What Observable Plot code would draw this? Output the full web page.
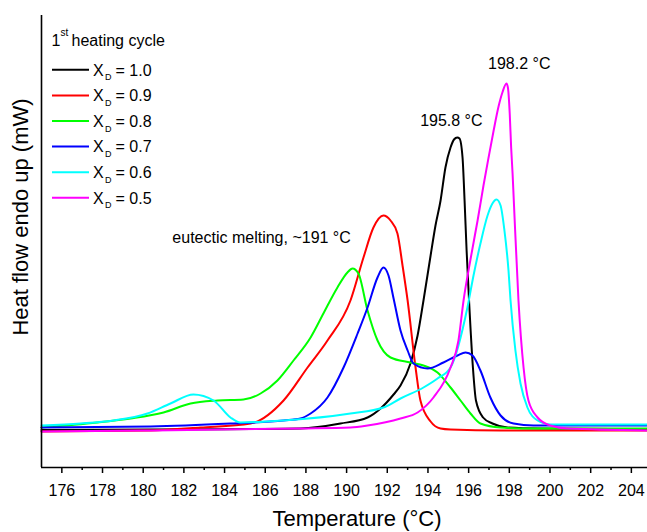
<!DOCTYPE html>
<html>
<head>
<meta charset="utf-8">
<script src="https://cdn.jsdelivr.net/npm/d3@7"></script>
<script src="https://cdn.jsdelivr.net/npm/@observablehq/plot@0.6"></script>
<style>
  html, body { margin: 0; padding: 0; background: #fff; overflow: hidden; }
  #chart svg { display: block; overflow: hidden; }
</style>
</head>
<body>
<div id="chart"></div>
<script>
// ---- series ----
const seriesKeys = ["1.0", "0.9", "0.8", "0.7", "0.6", "0.5"];
const seriesColors = ["#000000", "#ff0000", "#00ff00", "#0000ff", "#00ffff", "#ff00ff"];

// X_D = 1.0 (black)
const tempX10 = [175, 180.36, 185.28, 187.73, 189.70, 191.03, 191.67, 192.31, 192.65, 193.14, 193.49, 193.78, 194.13, 194.37, 194.62, 194.86, 195.11, 195.28, 195.44, 195.55, 195.70, 195.80, 195.90, 196.02, 196.21, 196.36, 196.71, 197.17, 197.91, 199.53, 205];
const heatX10 = [3.75, 3.8, 3.85, 3.9, 4.4, 5.0, 5.9, 7.3, 8.2, 10.4, 13.2, 16.7, 21.2, 24.2, 26.7, 30.0, 32.0, 32.8, 33.0, 32.9, 31.0, 26.7, 21.7, 16.7, 10.0, 6.7, 5.0, 4.4, 4.0, 3.9, 3.85];
// X_D = 0.9 (red)
const tempX09 = [175, 180.36, 182.82, 185.28, 186.90, 188.08, 189.06, 190.19, 190.83, 191.32, 191.81, 192.16, 192.50, 192.75, 193.00, 193.39, 193.63, 194.13, 194.62, 195.11, 197.57, 205];
const heatX09 = [3.6, 3.7, 4.0, 4.4, 6.7, 10.0, 12.7, 16.7, 21.0, 24.0, 25.2, 24.7, 23.4, 20.2, 16.7, 10.0, 6.7, 4.6, 3.9, 3.8, 3.7, 3.7];
// X_D = 0.8 (green)
const tempX08 = [175, 177.75, 179.38, 181.0, 182.33, 183.65, 184.93, 185.77, 186.60, 187.39, 188.23, 188.86, 189.55, 190.04, 190.29, 190.58, 191.03, 191.52, 192.16, 193.14, 193.78, 194.47, 195.11, 195.60, 196.09, 196.58, 197.57, 199.19, 205];
const heatX08 = [4.0, 4.5, 4.9, 5.5, 6.4, 6.7, 6.8, 7.4, 8.7, 10.7, 13.0, 15.4, 18.0, 19.5, 19.9, 19.4, 15.7, 12.7, 11.0, 10.5, 10.2, 9.5, 8.0, 6.7, 5.4, 4.4, 4.0, 3.9, 3.9];
// X_D = 0.7 (blue)
const tempX07 = [175, 180.36, 184.29, 186.90, 187.73, 188.23, 189.06, 189.85, 190.54, 191.03, 191.52, 191.81, 192.06, 192.31, 192.65, 193.0, 193.29, 193.98, 194.76, 195.45, 195.85, 196.19, 196.58, 197.07, 197.57, 198.21, 199.19, 205];
const heatX07 = [4.0, 4.1, 4.4, 4.7, 4.9, 5.4, 7.0, 10.0, 13.4, 16.0, 19.0, 20.0, 19.2, 16.9, 13.7, 11.7, 10.4, 9.9, 10.5, 11.2, 11.5, 11.2, 9.7, 7.0, 5.2, 4.4, 4.2, 4.2];
// X_D = 0.6 (cyan)
const tempX06 = [175, 176.92, 178.54, 180.21, 181.34, 182.47, 183.46, 184.29, 184.78, 186.90, 190.19, 191.81, 192.65, 193.78, 194.47, 195.11, 195.94, 196.24, 196.58, 196.93, 197.17, 197.37, 197.57, 197.76, 197.96, 198.06, 198.30, 198.55, 198.89, 199.39, 200.02, 205];
const heatX06 = [4.2, 4.4, 4.7, 5.4, 6.4, 7.3, 6.7, 5.0, 4.5, 4.7, 5.4, 6.0, 6.9, 8.0, 8.9, 10.0, 16.0, 19.2, 22.4, 25.2, 26.4, 26.8, 26.2, 23.7, 19.7, 16.7, 11.7, 8.4, 6.0, 4.7, 4.3, 4.3];
// X_D = 0.5 (magenta)
const tempX05 = [175, 180.36, 187.73, 190.19, 191.03, 192.65, 193.49, 194.27, 195.11, 195.50, 195.75, 196.09, 196.44, 196.73, 196.98, 197.22, 197.47, 197.66, 197.86, 197.93, 198.02, 198.09, 198.16, 198.22, 198.45, 198.70, 198.94, 199.39, 200.02, 200.86, 205];
const heatX05 = [3.6, 3.7, 3.9, 4.0, 4.2, 4.9, 5.5, 7.0, 10.0, 12.7, 16.7, 20.8, 24.7, 28.2, 31.0, 33.6, 36.1, 37.5, 38.4, 38.0, 35.4, 32.0, 29.4, 26.7, 16.7, 10.0, 6.7, 5.0, 4.2, 3.9, 3.7];

// ---- axis ticks ----
const majorTicks = [176, 178, 180, 182, 184, 186, 188, 190, 192, 194, 196, 198, 200, 202, 204];
const minorTicks = [177, 179, 181, 183, 185, 187, 189, 191, 193, 195, 197, 199, 201, 203];

// ---- annotations ----
const annoLabels = ["198.2 °C", "195.8 °C", "eutectic melting, ~191 °C"];
const annoTemp = [198.49, 195.15, 185.82];
const annoHeat = [40.4, 34.7, 23.0];

// ---- build table ----
const temps = [tempX10, tempX09, tempX08, tempX07, tempX06, tempX05];
const heats = [heatX10, heatX09, heatX08, heatX07, heatX06, heatX05];
const rows = seriesKeys.flatMap((k, i) => temps[i].map((t, j) => ({series: k, T: t, hf: heats[i][j]})));
const annos = annoLabels.map((s, i) => ({text: s, T: annoTemp[i], hf: annoHeat[i]}));

// ---- layout ----
const W = 647, H = 532;
const mL = 41, mT = 15, mB = 65;
const xDomain = [175, 205], xRange = [41, 651.2];
const yDomain = [0, 45.2], yRange = [H - mB, mT];
const xPix = d3.scaleLinear(xDomain, xRange);
const yPix = d3.scaleLinear(yDomain, yRange);
const font = "Arial, 'Liberation Sans', sans-serif";

const legendRows = seriesKeys.map((k, i) => ({key: k, label: "= " + k, row: i}));
const rowY = d => yPix.invert(69.3 + 25.6 * d.row);

const chart = Plot.plot({
  width: W, height: H,
  marginLeft: mL, marginTop: mT, marginBottom: mB, marginRight: 0,
  style: {fontFamily: font, background: "#fff", overflow: "hidden", color: "#000"},
  x: {domain: xDomain, range: xRange},
  y: {domain: yDomain, range: yRange, axis: null},
  color: {domain: seriesKeys, range: seriesColors},
  marks: [
    Plot.line(rows, {x: "T", y: "hf", z: "series", stroke: "series", strokeWidth: 2, curve: "monotone-x"}),
    // axis lines
    Plot.ruleX([xDomain[0]], {stroke: "#000", strokeWidth: 1.6}),
    Plot.ruleY([yDomain[0]], {x1: xDomain[0], x2: xDomain[1], stroke: "#000", strokeWidth: 1.6}),
    Plot.axisX(majorTicks, {tickSize: 6, tickPadding: 11, fontSize: 16, strokeWidth: 1.5, label: null, tickFormat: d => String(d)}),
    Plot.axisX(minorTicks, {tickSize: 3, strokeWidth: 1.5, label: null, tickFormat: () => ""}),
    // axis titles
    Plot.text(["Temperature (°C)"], {frameAnchor: "bottom", textAnchor: "middle", lineAnchor: "middle", dx: 12.5, dy: 51, fontSize: 22}),
    Plot.text(["Heat flow endo up (mW)"], {frameAnchor: "left", textAnchor: "middle", lineAnchor: "middle", rotate: -90, dx: -21, dy: -24.5, fontSize: 22}),
    // annotations
    Plot.text(annos, {x: "T", y: "hf", text: "text", fontSize: 16, fill: "#000", lineAnchor: "middle"}),
    // legend title
    Plot.text(["1"], {frameAnchor: "top-left", dx: 10, dy: 25.4, textAnchor: "start", lineAnchor: "middle", fontSize: 16}),
    Plot.text(["st"], {frameAnchor: "top-left", dx: 19, dy: 17.6, textAnchor: "start", lineAnchor: "middle", fontSize: 10}),
    Plot.text(["heating cycle"], {frameAnchor: "top-left", dx: 30, dy: 25.4, textAnchor: "start", lineAnchor: "middle", fontSize: 16}),
    // legend entries
    Plot.ruleY(legendRows, {y: rowY, x1: xPix.invert(52), x2: xPix.invert(89), stroke: "key", strokeWidth: 2}),
    Plot.text(legendRows, {x: xPix.invert(92.5), y: rowY, text: () => "X", textAnchor: "start", lineAnchor: "middle", fontSize: 16, dy: 0.6}),
    Plot.text(legendRows, {x: xPix.invert(104.5), y: rowY, text: () => "D", textAnchor: "start", lineAnchor: "middle", fontSize: 9, dy: 7.8}),
    Plot.text(legendRows, {x: xPix.invert(115), y: rowY, text: "label", textAnchor: "start", lineAnchor: "middle", fontSize: 16, dy: 0.6})
  ]
});
document.getElementById("chart").appendChild(chart);
</script>
</body>
</html>
